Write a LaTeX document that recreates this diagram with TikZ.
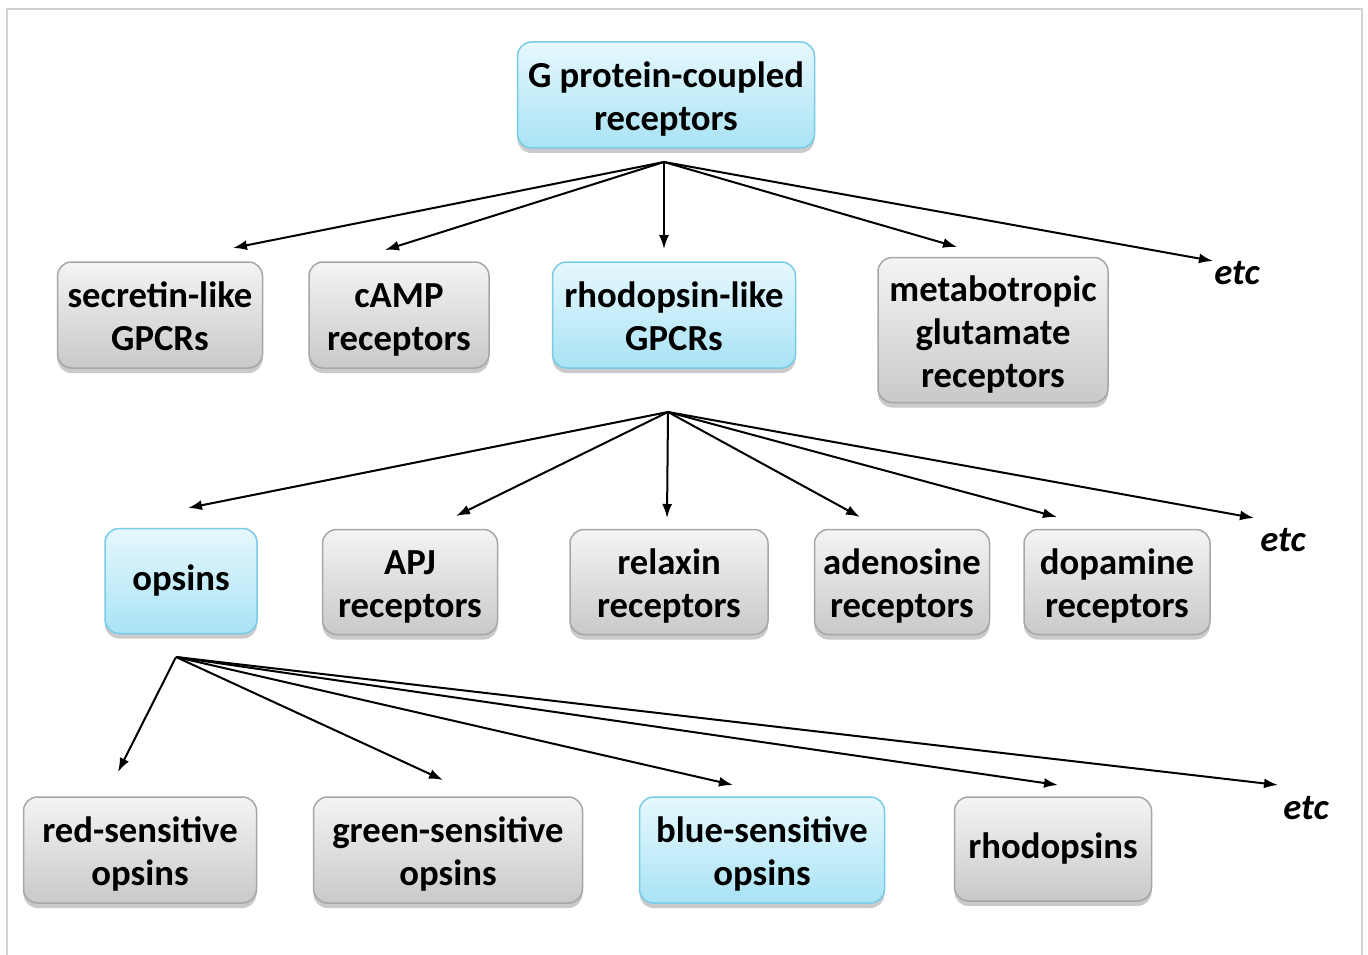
\documentclass[tikz,border=0pt]{standalone}
\usepackage{fontspec}
\setmainfont{Carlito}
\usetikzlibrary{arrows.meta,shadows}
\definecolor{framegray}{HTML}{D2D2D2}
\definecolor{graytop}{HTML}{F4F4F4}
\definecolor{graybot}{HTML}{C9C9C9}
\definecolor{grayedge}{HTML}{A6A6A6}
\definecolor{bluetop}{HTML}{E6F8FD}
\definecolor{bluebot}{HTML}{A9E3F5}
\definecolor{blueedge}{HTML}{78CBE6}
% stacked label lines with a fixed first-line height, so every box sets its lines alike
\newcommand\boxlines[1]{\begin{tabular}{@{}c@{}}\rule{0pt}{41pt}#1\end{tabular}}
\tikzset{
  box/.style={rounded corners=14, align=center, inner sep=0pt,
    font=\fontsize{36.7}{43}\selectfont\bfseries, line width=1.5,
    drop shadow={shadow xshift=0pt, shadow yshift=-5pt, opacity=0.35, fill=black!60}},
  graybox/.style={box, draw=grayedge, top color=graytop, bottom color=graybot},
  bluebox/.style={box, draw=blueedge, top color=bluetop, bottom color=bluebot},
  etclabel/.style={font=\fontsize{36.7}{43}\selectfont\bfseries\itshape, inner sep=0pt},
  link/.style={line width=2, -{Latex[length=14pt,width=10pt]}}
}
\begin{document}
\begin{tikzpicture}[x=1pt,y=-1pt]
\useasboundingbox (0,0) rectangle (1368,955);
% outer frame
\draw[framegray, line width=2.5] (7,955) -- (7,9) -- (1362,9) -- (1362,955);

% top level
\node[bluebox, minimum width=297, minimum height=106] (gpcr) at (666,95) {\boxlines{G protein-coupled\\receptors}};

% families
\node[graybox, minimum width=205, minimum height=106] (sec) at (160,315) {\boxlines{secretin-like\\GPCRs}};
\node[graybox, minimum width=180, minimum height=106] (camp) at (399,315) {\boxlines{cAMP\\receptors}};
\node[bluebox, minimum width=243, minimum height=106] (rho) at (674,315) {\boxlines{rhodopsin-like\\GPCRs}};
\node[graybox, minimum width=230, minimum height=145] (meta) at (993,330) {\boxlines{metabotropic\\glutamate\\receptors}};
\node[etclabel] (etcA) at (1237,273) {etc};

% rhodopsin-like subfamilies
\node[bluebox, minimum width=152, minimum height=105] (ops) at (181,581) {opsins};
\node[graybox, minimum width=175, minimum height=105] (apj) at (410,582) {\boxlines{APJ\\receptors}};
\node[graybox, minimum width=198, minimum height=105] (rel) at (669,582) {\boxlines{relaxin\\receptors}};
\node[graybox, minimum width=175, minimum height=105] (ade) at (902,582) {\boxlines{adenosine\\receptors}};
\node[graybox, minimum width=186, minimum height=105] (dop) at (1117,582) {\boxlines{dopamine\\receptors}};
\node[etclabel] (etcB) at (1283,540) {etc};

% opsins
\node[graybox, minimum width=233, minimum height=106] (red) at (140,850) {\boxlines{red-sensitive\\opsins}};
\node[graybox, minimum width=269, minimum height=106] (green) at (448,850) {\boxlines{green-sensitive\\opsins}};
\node[bluebox, minimum width=245, minimum height=106] (blue) at (762,850) {\boxlines{blue-sensitive\\opsins}};
\node[graybox, minimum width=197, minimum height=104] (rhods) at (1053,849) {rhodopsins};
\node[etclabel] (etcC) at (1306,808) {etc};

% branch points and arrow targets
\coordinate (h1) at (664,162);
\coordinate (t1a) at (233,248);
\coordinate (t1b) at (385,250);
\coordinate (t1c) at (664,249);
\coordinate (t1d) at (957,247);
\coordinate (t1e) at (1213,261);

\coordinate (h2) at (668,412);
\coordinate (t2a) at (188,508);
\coordinate (t2b) at (456,516);
\coordinate (t2c) at (667,518);
\coordinate (t2d) at (860,517);
\coordinate (t2e) at (1057,517);
\coordinate (t2f) at (1254,518);

\coordinate (h3) at (176,657);
\coordinate (t3a) at (118,772);
\coordinate (t3b) at (443,780);
\coordinate (t3c) at (733,785);
\coordinate (t3d) at (1058,785);
\coordinate (t3e) at (1278,785);

\foreach \t in {t1a,t1b,t1c,t1d,t1e} \draw[link] (h1) -- (\t);
\foreach \t in {t2a,t2b,t2c,t2d,t2e,t2f} \draw[link] (h2) -- (\t);
\foreach \t in {t3a,t3b,t3c,t3d,t3e} \draw[link] (h3) -- (\t);
\end{tikzpicture}
\end{document}
